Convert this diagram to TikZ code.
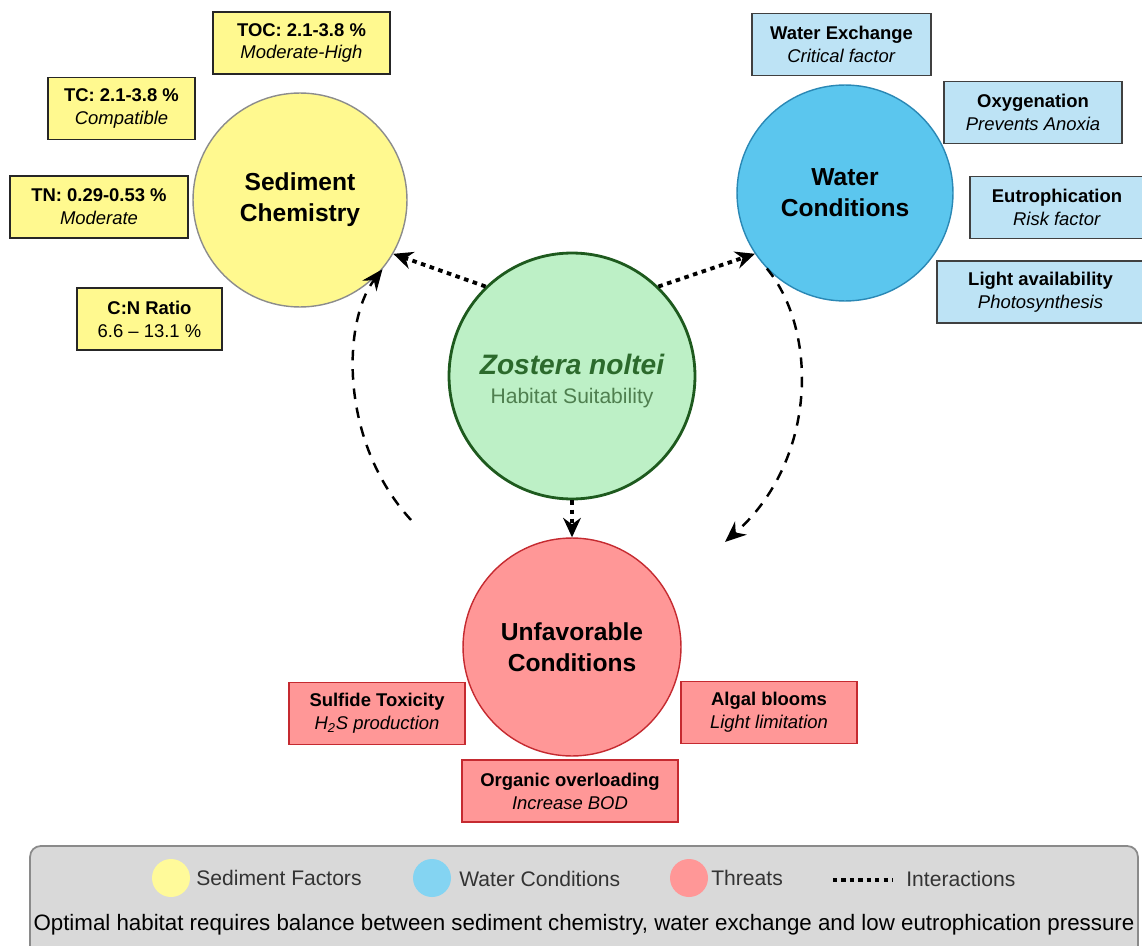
\documentclass[tikz,border=0pt]{standalone}
\usepackage{fontspec}
\setmainfont{Liberation Sans}
\usetikzlibrary{arrows.meta}
\definecolor{sedFill}{HTML}{FFF98F}
\definecolor{sedLine}{HTML}{8C8C8C}
\definecolor{watFill}{HTML}{5BC6EE}
\definecolor{watLine}{HTML}{2A88B5}
\definecolor{watBox}{HTML}{BDE3F5}
\definecolor{zosFill}{HTML}{BDF0C6}
\definecolor{zosLine}{HTML}{1E5A1E}
\definecolor{zosText}{HTML}{2C6A2C}
\definecolor{zosSub}{HTML}{4F7F4F}
\definecolor{thrFill}{HTML}{FF9797}
\definecolor{thrLine}{HTML}{C52A30}
\definecolor{legFill}{HTML}{D9D9D9}
\definecolor{legLine}{HTML}{8A8A8A}
\definecolor{legText}{HTML}{333333}
\tikzstyle{bigCircle}=[shape = circle, inner sep = 0pt, align = center, font = \fontsize{14}{17.5}\selectfont\bfseries]
\tikzstyle{infoBox}=[shape = rectangle, minimum height = 1.24cm, inner sep = 2pt, line width = 1pt, align = center, font = \fontsize{10.5}{13}\selectfont]

\begin{document}
\begin{tikzpicture}[x = 0.02cm, y = -0.02cm]
\tikzstyle{sedCircle}=[bigCircle, minimum size = 4.28cm, draw = sedLine, fill = sedFill, line width = 0.8pt]
\tikzstyle{watCircle}=[bigCircle, minimum size = 4.32cm, draw = watLine, fill = watFill, line width = 0.8pt]
\tikzstyle{thrCircle}=[bigCircle, minimum size = 4.36cm, draw = thrLine, fill = thrFill, line width = 0.8pt]
\tikzstyle{sedBox}=[infoBox, draw = black!85, fill = sedFill]
\tikzstyle{watBox}=[infoBox, draw = black!75, fill = watBox]
\tikzstyle{thrBox}=[infoBox, draw = thrLine, fill = thrFill]
\tikzstyle{interact}=[line width = 2.2pt, dash pattern = on 2.6pt off 2.6pt, -{Stealth[length = 11pt, width = 10pt]}]
\tikzstyle{feedback}=[line width = 1.4pt, dash pattern = on 6pt off 5pt, -{Stealth[length = 12pt, width = 10pt]}]
\useasboundingbox (0,0) rectangle (1142,946);
% main circles
\node[sedCircle] (sed) at (300,200) {Sediment\\Chemistry};
\node[watCircle] (wat) at (845,193) {Water\\Conditions};
\node[thrCircle] (thr) at (572,647) {Unfavorable\\Conditions};
\node[shape = circle, minimum size = 4.92cm, draw = zosLine, fill = zosFill, line width = 1.6pt, align = center] (zos) at (572,376) {};
\node[align = center, inner sep = 0pt] (zosLabel) at (572,381)
  {{\fontsize{16}{19}\selectfont\bfseries\itshape\color{zosText}Zostera noltei}\\[5pt]{\fontsize{12}{14}\selectfont\color{zosSub}Habitat Suitability}};
% sediment factors
\node[sedBox, minimum width = 3.54cm] (toc) at (301.5,43) {\textbf{TOC: 2.1-3.8 \%}\\\textit{Moderate-High}};
\node[sedBox, minimum width = 2.94cm] (tc) at (121.5,108.5) {\textbf{TC: 2.1-3.8 \%}\\\textit{Compatible}};
\node[sedBox, minimum width = 3.56cm] (tn) at (99,207) {\textbf{TN: 0.29-0.53 \%}\\\textit{Moderate}};
\node[sedBox, minimum width = 2.90cm] (cn) at (149.5,319) {\textbf{C:N Ratio}\\6.6 – 13.1 \%};
% water factors
\node[watBox, minimum width = 3.58cm] (wex) at (841.5,44.5) {\textbf{Water Exchange}\\\textit{Critical factor}};
\node[watBox, minimum width = 3.56cm] (oxy) at (1033,112.5) {\textbf{Oxygenation}\\\textit{Prevents Anoxia}};
\node[watBox, minimum width = 3.48cm] (eut) at (1057,207.5) {\textbf{Eutrophication}\\\textit{Risk factor}};
\node[watBox, minimum width = 4.14cm] (lig) at (1040.5,292) {\textbf{Light availability}\\\textit{Photosynthesis}};
% threats
\node[thrBox, minimum width = 3.52cm] (sul) at (377,713.5) {\textbf{Sulfide Toxicity}\\\textit{H\textsubscript{2}S production}};
\node[thrBox, minimum width = 3.52cm] (alg) at (769,712.5) {\textbf{Algal blooms}\\\textit{Light limitation}};
\node[thrBox, minimum width = 4.32cm] (org) at (570,791) {\textbf{Organic overloading}\\\textit{Increase BOD}};
% interactions
\draw[interact] (zos.134) -- (sed.-30);
\draw[interact] (zos.46) -- (wat.-146);
\draw[interact] (zos.south) -- (thr.north);
\coordinate (loopStart) at (411,520);
\coordinate (loopEnd) at (725,542);
\draw[feedback] (loopStart) .. controls (338,440) and (343,320) .. (sed.-40);
\draw[feedback] (wat.-136) .. controls (818,330) and (818,460) .. (loopEnd);
% legend
\node[shape = rectangle, rounded corners = 6pt, minimum width = 22.16cm, minimum height = 2.6cm, draw = legLine, fill = legFill, line width = 1pt] (legend) at (584,911) {};
\tikzstyle{legText}=[anchor = west, inner sep = 0pt, text = legText, font = \fontsize{12}{14}\selectfont]
\node[shape = circle, minimum size = 0.76cm, inner sep = 0pt, fill = sedFill!90!white] (legSed) at (171,878) {};
\node[legText] (legSedT) at (196,878) {Sediment Factors};
\node[shape = circle, minimum size = 0.76cm, inner sep = 0pt, fill = watFill!75!white] (legWat) at (432,878) {};
\node[legText] (legWatT) at (459,879) {Water Conditions};
\node[shape = circle, minimum size = 0.76cm, inner sep = 0pt, fill = thrFill] (legThr) at (689,878) {};
\node[legText] (legThrT) at (711,878) {Threats};
\coordinate (dotA) at (833,880);
\coordinate (dotB) at (893,880);
\draw[line width = 2pt, dash pattern = on 2.4pt off 2.4pt] (dotA) -- (dotB);
\node[legText] (legIntT) at (906,879) {Interactions};
\node[text = black, font = \fontsize{12.7}{15}\selectfont] (note) at (584,925) {Optimal habitat requires balance between sediment chemistry, water exchange and low eutrophication pressure};
\end{tikzpicture}
\end{document}
